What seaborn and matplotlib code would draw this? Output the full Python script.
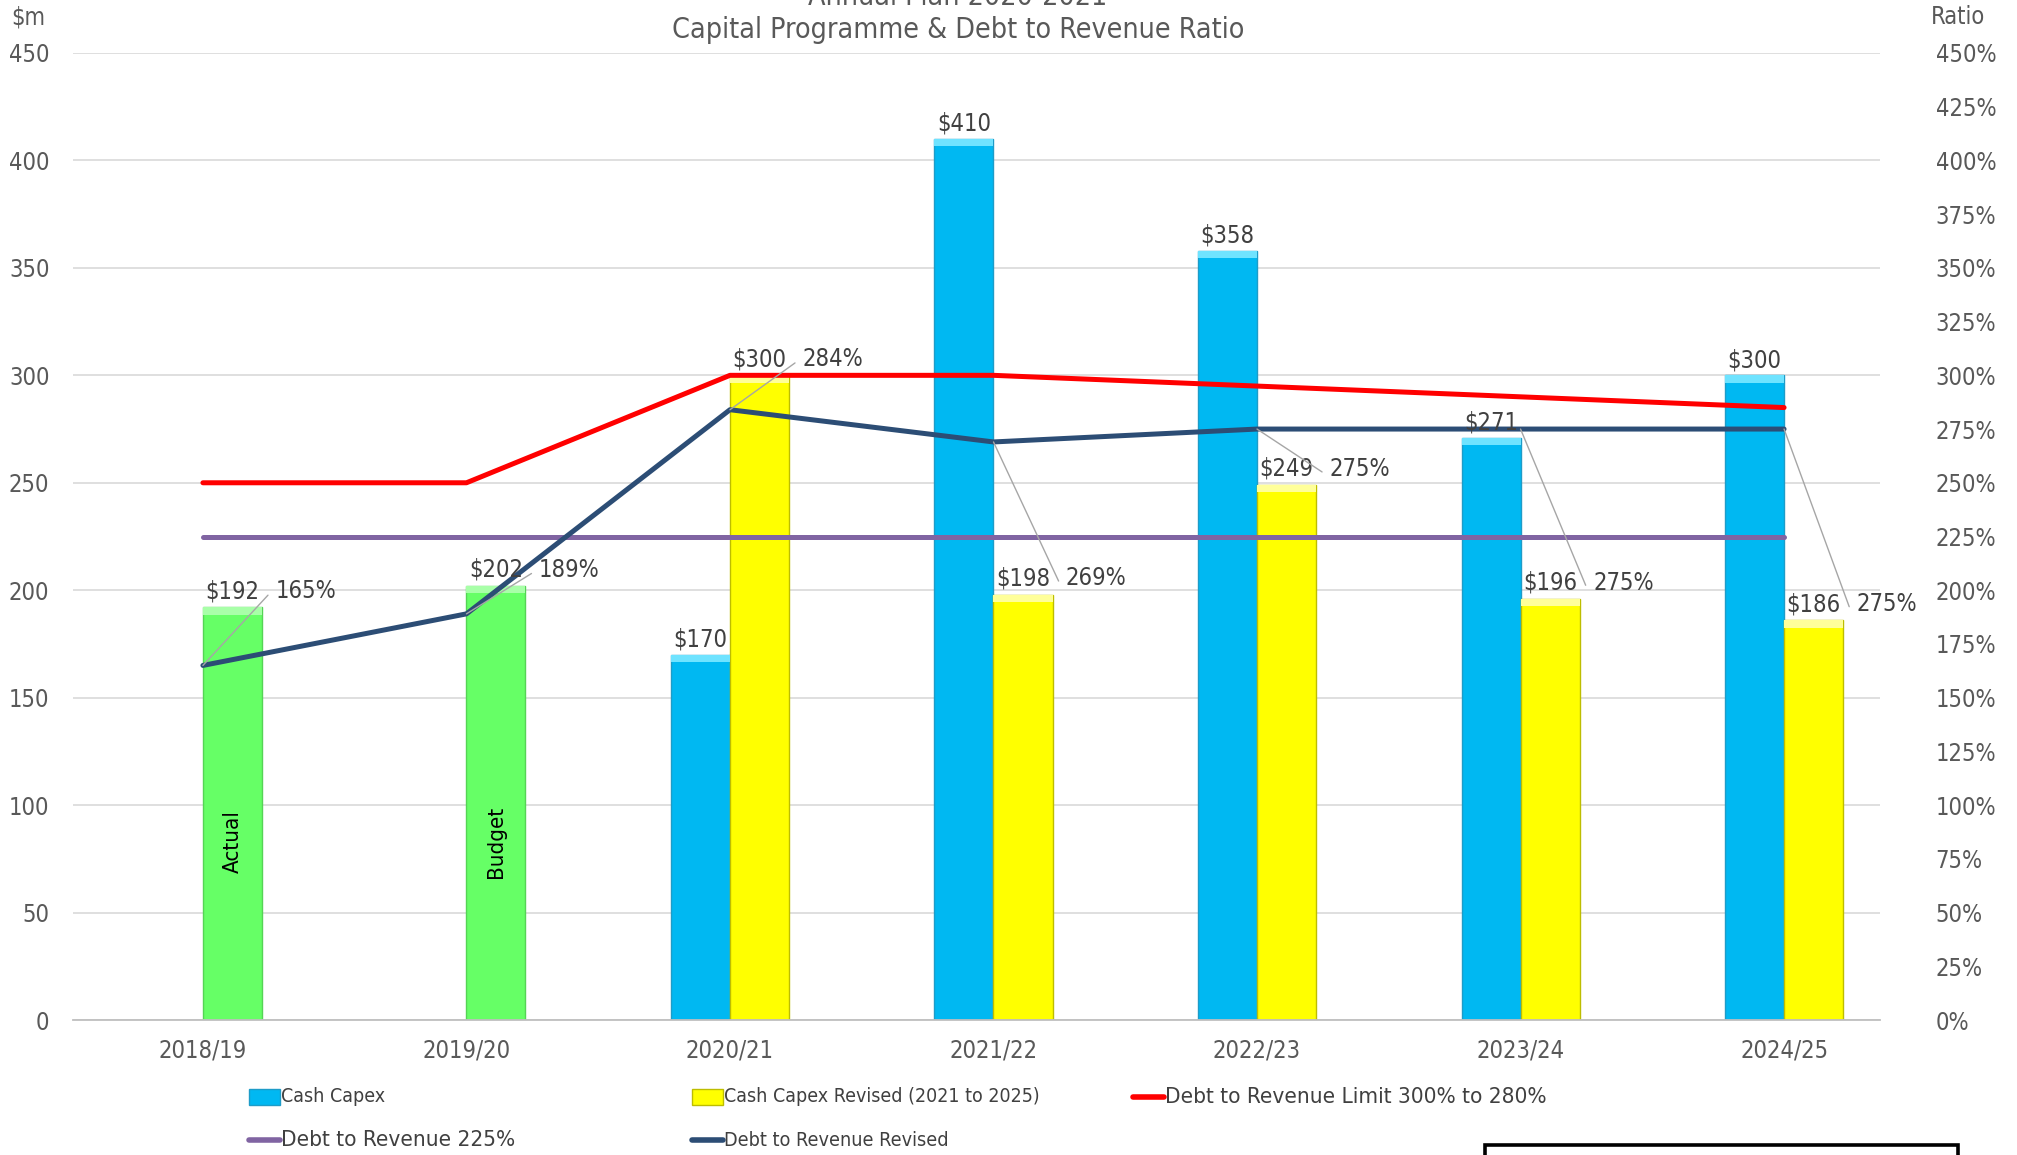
import numpy as np
import pandas as pd
import matplotlib
matplotlib.use("Agg")
import matplotlib.pyplot as plt
import seaborn as sns
from matplotlib.patches import Rectangle
from matplotlib.lines import Line2D

# ---------------- data ----------------
years = ["2018/19", "2019/20", "2020/21", "2021/22", "2022/23", "2023/24", "2024/25"]
cash_capex = [np.nan, np.nan, 170, 410, 358, 271, 300]
cash_capex_revised = [192, 202, 300, 198, 249, 196, 186]   # first two: Actual / Budget (green)
limit_ratio = [250, 250, 300, 300, 295, 290, 285]
dtr_225 = [225, 225, 225, 225, 225, 225, 225]
dtr_revised = [165, 189, 284, 269, 275, 275, 275]
green_notes = ["Actual", "Budget"]
left_ticks = list(range(0, 451, 50))
right_ticks = list(range(0, 451, 25))

# ---------------- style ----------------
sns.set_theme(style="white")
plt.rcParams["font.family"] = ["DejaVu Sans"]
plt.rcParams["font.stretch"] = "condensed"
TXT = "#404040"
TICK = "#595959"
BLUE, YELLOW, GREEN = "#00B8F2", "#FFFF00", "#66FF66"
RED, PURPLE, NAVY = "#FF0000", "#8064A2", "#2C4D75"

W, H = 2017, 1155
fig = plt.figure(figsize=(W / 100, H / 100), dpi=100)
ax = fig.add_axes([73 / W, 1 - 1020 / H, (1880 - 73) / W, (1020 - 53) / H])

df = pd.DataFrame({
    "year": years * 2,
    "series": ["Cash Capex"] * 7 + ["Cash Capex Revised"] * 7,
    "value": cash_capex + cash_capex_revised,
}).dropna()

sns.barplot(data=df, x="year", y="value", hue="series", order=years,
            hue_order=["Cash Capex", "Cash Capex Revised"],
            palette={"Cash Capex": BLUE, "Cash Capex Revised": YELLOW},
            width=0.448, gap=0, dodge=True, errorbar=None, legend=False,
            saturation=1, ax=ax, zorder=2)

blue_c, yel_c = ax.containers[0], ax.containers[1]
for p in blue_c:
    p.set_edgecolor("#1E9CC8"); p.set_linewidth(1.0)
for i, p in enumerate(yel_c):
    if i < len(green_notes):
        p.set_facecolor(GREEN); p.set_edgecolor("#55D455")
    else:
        p.set_edgecolor("#BDBD00")
    p.set_linewidth(1.0)

# bevel highlight on top of every bar
for cont, hl in ((blue_c, "#6FE3FF"), (yel_c, None)):
    for i, p in enumerate(cont):
        c = hl if hl else ("#A8FFA8" if i < 2 else "#FFFF99")
        ax.add_patch(Rectangle((p.get_x(), p.get_height() - 3.5), p.get_width(), 3.5,
                               facecolor=c, edgecolor="none", zorder=3))

ax.set_xlim(-0.493, 6.364)
ax.set_ylim(0, 450)
ax.set_yticks(left_ticks)
ax.set_yticklabels([str(v) for v in left_ticks])
ax.yaxis.grid(True, color="#D9D9D9", lw=1.2)
ax.set_axisbelow(True)
for s in ("top", "left", "right"):
    ax.spines[s].set_visible(False)
ax.spines["bottom"].set_color("#BFBFBF")
ax.spines["bottom"].set_linewidth(1.3)
ax.set_xlabel(""); ax.set_ylabel("")
ax.tick_params(axis="y", length=0, pad=17, labelsize=17, labelcolor=TICK)
ax.tick_params(axis="x", length=0, pad=13, labelsize=17, labelcolor=TICK)

# ---------------- lines on secondary axis ----------------
ax2 = ax.twinx()
xs = np.arange(len(years))
sns.lineplot(x=xs, y=limit_ratio, ax=ax2, color=RED, lw=3.6, legend=False)
sns.lineplot(x=xs, y=dtr_225, ax=ax2, color=PURPLE, lw=3.6, legend=False)
sns.lineplot(x=xs, y=dtr_revised, ax=ax2, color=NAVY, lw=3.6, legend=False)
ax2.set_ylim(0, 450)
ax2.set_yticks(right_ticks)
ax2.set_yticklabels([f"{v}%" for v in right_ticks])
ax2.tick_params(axis="y", length=0, pad=40, labelsize=17, labelcolor=TICK)
for s in ax2.spines.values():
    s.set_visible(False)
ax2.grid(False)
ax2.set_ylabel("")

# ---------------- data labels ----------------
off = 0.112
for i in range(len(years)):
    if not np.isnan(cash_capex[i]):
        ax2.text(i - off, cash_capex[i] + 1.5, f"${cash_capex[i]:.0f}", ha="center",
                 va="bottom", fontsize=17, color=TXT)
    yv = cash_capex_revised[i]
    ax2.text(i + off, yv + 2, f"${yv:.0f}", ha="center", va="bottom",
             fontsize=17, color=TXT)
    ax2.annotate(f"{dtr_revised[i]}%", xy=(i, dtr_revised[i]),
                 xytext=(i + 0.275, yv + 2), ha="left", va="bottom",
                 fontsize=17, color=TXT,
                 arrowprops=dict(arrowstyle="-", color="#A6A6A6", lw=1.0,
                                 relpos=(0, 0.35), shrinkA=3, shrinkB=0,
                                 connectionstyle="arc,angleA=180,armA=7,angleB=0,armB=0,rad=0"))

for i, note in enumerate(green_notes):
    ax2.text(i + off, 83, note, rotation=90, ha="center", va="center",
             fontsize=16, color="black")

# ---------------- titles & axis captions ----------------
fig.text(958 / W, 1 - 5 / H, "Annual Plan 2020-2021", ha="center", va="baseline",
         fontsize=20.5, color="#595959")
fig.text(958 / W, 1 - 30 / H, "Capital Programme & Debt to Revenue Ratio",
         ha="center", va="center", fontsize=20.5, color="#595959")
fig.text(28 / W, 1 - 17 / H, "$m", ha="center", va="center", fontsize=17, color=TICK)
fig.text(1958 / W, 1 - 17 / H, "Ratio", ha="center", va="center", fontsize=17, color=TICK)

# ---------------- legend (manual) ----------------
def leg_patch(x, y, face, edge, label, fs):
    fig.add_artist(Rectangle((x / W, 1 - (y + 8) / H), 31 / W, 16 / H,
                             transform=fig.transFigure, facecolor=face,
                             edgecolor=edge, lw=1))
    fig.text((x + 32) / W, 1 - y / H, label, ha="left", va="center",
             fontsize=fs, color=TXT)

def leg_line(x, y, color, label, fs):
    fig.add_artist(Line2D([x / W, (x + 31) / W], [1 - y / H, 1 - y / H],
                          transform=fig.transFigure, color=color, lw=4))
    fig.text((x + 32) / W, 1 - y / H, label, ha="left", va="center",
             fontsize=fs, color=TXT)

leg_patch(249, 1097, BLUE, "#1E9CC8", "Cash Capex", 14)
leg_patch(692, 1097, YELLOW, "#BDBD00", "Cash Capex Revised (2021 to 2025)", 14)
leg_line(1133, 1097, RED, "Debt to Revenue Limit 300% to 280%", 16.2)
leg_line(249, 1140, PURPLE, "Debt to Revenue 225%", 16.2)
leg_line(692, 1140, NAVY, "Debt to Revenue Revised", 14.2)

# black box at bottom-right
fig.add_artist(Rectangle((1485 / W, -0.02), (1958 - 1485) / W, 0.02 + 10 / H,
                         transform=fig.transFigure, facecolor="white",
                         edgecolor="black", lw=2.6))

fig.savefig("out.png", dpi=100)
